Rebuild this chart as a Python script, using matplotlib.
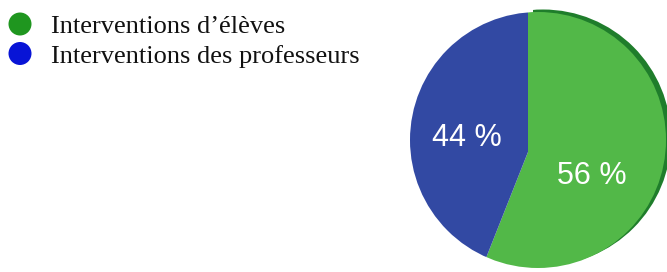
import matplotlib
matplotlib.use("Agg")
import matplotlib.pyplot as plt
from matplotlib.patches import Circle

categories = ["Interventions d\u2019\u00e9l\u00e8ves", "Interventions des professeurs"]
values = [56, 44]
value_labels = ["56 %", "44 %"]
colors = ["#52b848", "#3249a3"]
legend_colors = ["#1f961f", "#0814d6"]
shadow_color = "#1f7d2b"

W, H = 667, 272
fig = plt.figure(figsize=(W / 100, H / 100), dpi=100)
ax = fig.add_axes([0, 0, 1, 1])

# disc outline (slightly tilted look: wedge apex is off-centre)
cx, cy, r = 538, H - 140, 128
apex = (528, H - 152)
start = 90
sdx, sdy = 5, 2.5

# shadow rim (only for the green slice)
sh_wedges, _ = ax.pie(values, colors=[shadow_color, "none"], startangle=start,
                      counterclock=False, center=(apex[0] + sdx, apex[1] + sdy),
                      radius=150, frame=True, wedgeprops=dict(linewidth=0))
sh_clip = Circle((cx + sdx, cy + sdy), r, transform=ax.transData)
for w in sh_wedges:
    w.set_clip_on(True)
    w.set_clip_path(sh_clip)

wedges, _ = ax.pie(values, colors=colors, startangle=start, counterclock=False,
                   center=apex, radius=150, frame=True,
                   wedgeprops=dict(linewidth=0))
clip = Circle((cx, cy), r, transform=ax.transData)
for w in wedges:
    w.set_clip_on(True)
    w.set_clip_path(clip)

ax.set_xlim(0, W)
ax.set_ylim(0, H)
ax.set_aspect("equal")
ax.axis("off")

label_pos = [(592, H - 176), (467, H - 138)]
for (x, y), t in zip(label_pos, value_labels):
    ax.text(x, y, t, ha="center", va="center", color="white",
            fontsize=22, family="Liberation Sans")

# legend
marker_y = [H - 24, H - 53.5]
text_base = [H - 33, H - 63.5]
for my, ty, c, lab in zip(marker_y, text_base, legend_colors, categories):
    ax.add_patch(Circle((20, my), 11.5, color=c, lw=0))
    ax.text(51, ty, lab, ha="left", va="baseline", fontsize=19,
            family="Liberation Serif", color="#111111")

fig.savefig("out.png", dpi=100)
